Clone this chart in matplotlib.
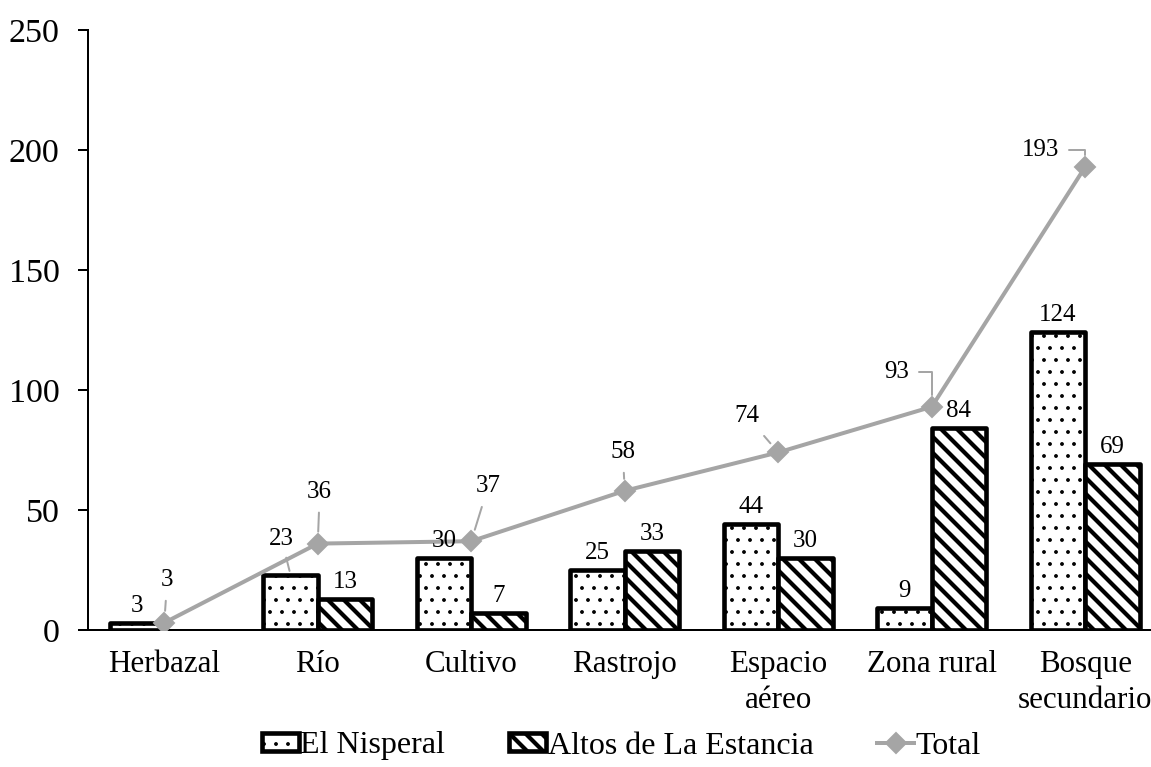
import numpy as np
import matplotlib
matplotlib.use("Agg")
import matplotlib.pyplot as plt
from matplotlib.patches import Patch
from matplotlib.lines import Line2D

# data
categories = ["Herbazal", "Río", "Cultivo", "Rastrojo", "Espacio\naéreo", "Zona rural", "Bosque\nsecundario"]
nisperal = [3, 23, 30, 25, 44, 9, 124]
altos = [0, 13, 7, 33, 30, 84, 69]
total = [3, 36, 37, 58, 74, 93, 193]
y_ticks = [0, 50, 100, 150, 200, 250]

GRAY = "#A5A5A5"
DPI = 144
DOTS, STRIPES = "..", "\\\\\\"
DOT_LW, STRIPE_LW = 0.7, 2.1
plt.rcParams["font.family"] = ["Liberation Serif", "DejaVu Serif"]

fig = plt.figure(figsize=(1151 / DPI, 767 / DPI), dpi=DPI)
ax = fig.add_axes([87.5 / 1151, 137 / 767, 7 * 153.5 / 1151, 600 / 767])

x = np.arange(len(categories))
w = 0.355


def hatched_bars(xpos, vals, hatch, lw):
    bars = ax.bar(xpos, vals, w, facecolor="white", edgecolor="black",
                  hatch=hatch, linewidth=2.3, joinstyle="round", zorder=2)
    for b, v in zip(bars, vals):
        b.set_hatch_linewidth(lw)
        if v == 0:
            b.set_visible(False)
    return bars


b1 = hatched_bars(x - w / 2, nisperal, DOTS, DOT_LW)
b2 = hatched_bars(x + w / 2, altos, STRIPES, STRIPE_LW)

ax.plot(x, total, color=GRAY, lw=2.0, marker="D", ms=7, zorder=3)

# bar value labels
lbl_kw = dict(textcoords="offset pixels", ha="center", va="center", fontsize=12.5)
for bars, vals in ((b1, nisperal), (b2, altos)):
    for b, v in zip(bars, vals):
        if v == 0:
            continue
        cx = b.get_x() + b.get_width() / 2
        if bars is b1 and v == 23:
            ax.annotate(str(v), (cx, v), xytext=(-9, 36), zorder=4,
                        arrowprops=dict(arrowstyle="-", color=GRAY, lw=1, shrinkA=2, shrinkB=2),
                        **lbl_kw)
        else:
            ax.annotate(str(v), (cx, v), xytext=(0, 17), **lbl_kw)

# total labels with leader lines
total_offsets = [(3, 43), (2, 52), (17, 55), (-2, 39), (-31, 36), (-35, 35), (-45, 17)]
for xi, v, off in zip(x, total, total_offsets):
    if off[0] < -33:
        conn = "angle,angleA=0,angleB=90,rad=0"
    else:
        conn = "arc3"
    ax.annotate(str(v), (xi, v), xytext=off, zorder=4,
                arrowprops=dict(arrowstyle="-", color=GRAY, lw=1, shrinkA=3, shrinkB=6,
                                connectionstyle=conn),
                **lbl_kw)

ax.set_xlim(-0.5, len(categories) - 0.5)
ax.set_ylim(0, 250)
ax.set_yticks(y_ticks)
ax.set_xticks(x)
ax.set_xticklabels(categories, fontsize=15.5, linespacing=1.3)
ax.tick_params(axis="x", length=0, pad=10)
ax.tick_params(axis="y", direction="out", length=5, width=1, pad=9, labelsize=17)
for s in ("top", "right"):
    ax.spines[s].set_visible(False)
ax.spines["left"].set_linewidth(1)
ax.spines["bottom"].set_linewidth(1)

handles = [
    Patch(facecolor="white", edgecolor="black", hatch=DOTS, linewidth=2.3),
    Patch(facecolor="white", edgecolor="black", hatch=STRIPES, linewidth=2.3),
    Line2D([], [], color=GRAY, lw=2.0, marker="D", ms=7),
]
leg = fig.legend(handles, ["El Nisperal", "Altos de La Estancia", "Total"],
                 loc="center", bbox_to_anchor=(0.54, 21 / 767),
                 ncol=3, frameon=False, fontsize=16, handlelength=1.15,
                 handleheight=0.5, handletextpad=0.05, columnspacing=2.0)
for p, lw in zip(leg.get_patches(), (DOT_LW, STRIPE_LW)):
    p.set_hatch_linewidth(lw)

fig.savefig("out.png", dpi=DPI)
